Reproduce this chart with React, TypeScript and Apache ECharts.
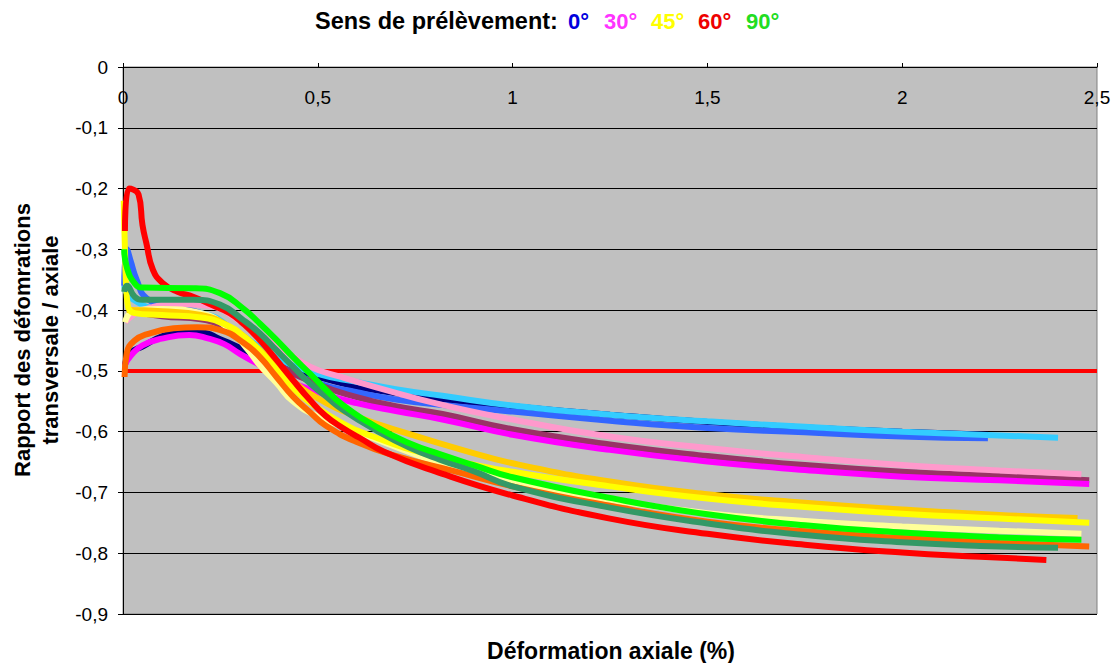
import React, { useEffect, useRef } from "react";
import * as echarts from "echarts";

// ---- Axis ticks ----
const X_MIN = 0, X_MAX = 2.5, X_STEP = 0.5;
const Y_MIN = -0.9, Y_MAX = 0, Y_STEP = 0.1;
const REF_LINE: [number, number][] = [[0, -0.5], [2.5, -0.5]];

// ---- 0° ----
const deg0_navy: [number, number][] = [[0.005,-0.49],[0.02,-0.47],[0.05,-0.46],[0.1,-0.443],[0.15,-0.437],[0.2,-0.437],[0.25,-0.448],[0.3,-0.462],[0.35,-0.478],[0.4,-0.492],[0.48,-0.506],[0.56,-0.52],[0.65,-0.532],[0.8,-0.545],[1.0,-0.558],[1.25,-0.572],[1.5,-0.584],[1.75,-0.593],[2.0,-0.6],[2.22,-0.605]];
const deg0_royal: [number, number][] = [[0.003,-0.36],[0.01,-0.3],[0.02,-0.32],[0.035,-0.35],[0.06,-0.38],[0.12,-0.395],[0.2,-0.405],[0.3,-0.44],[0.4,-0.49],[0.5,-0.52],[0.6,-0.535],[0.7,-0.547],[0.82,-0.556],[1.0,-0.567],[1.25,-0.582],[1.5,-0.594],[1.75,-0.601],[2.0,-0.608],[2.22,-0.611]];
const deg0_sky: [number, number][] = [[0.003,-0.36],[0.02,-0.38],[0.1,-0.4],[0.2,-0.405],[0.3,-0.44],[0.4,-0.48],[0.5,-0.505],[0.6,-0.518],[0.7,-0.53],[0.82,-0.541],[1.0,-0.557],[1.25,-0.572],[1.5,-0.583],[1.75,-0.592],[2.0,-0.6],[2.2,-0.605],[2.4,-0.61]];
// ---- 30° ----
const deg30_plum: [number, number][] = [[0.01,-0.4],[0.1,-0.41],[0.2,-0.415],[0.3,-0.445],[0.4,-0.49],[0.5,-0.522],[0.6,-0.543],[0.7,-0.558],[0.82,-0.571],[1.0,-0.596],[1.25,-0.621],[1.5,-0.64],[1.75,-0.655],[2.0,-0.666],[2.25,-0.673],[2.48,-0.68]];
const deg30_pink: [number, number][] = [[0.005,-0.42],[0.05,-0.4],[0.15,-0.39],[0.22,-0.393],[0.3,-0.418],[0.4,-0.46],[0.48,-0.493],[0.56,-0.51],[0.65,-0.527],[0.82,-0.556],[1.0,-0.58],[1.25,-0.608],[1.5,-0.627],[1.75,-0.642],[2.0,-0.655],[2.25,-0.664],[2.46,-0.67]];
const deg30_magenta: [number, number][] = [[0.005,-0.49],[0.02,-0.475],[0.05,-0.458],[0.1,-0.447],[0.17,-0.441],[0.22,-0.447],[0.26,-0.456],[0.3,-0.472],[0.35,-0.49],[0.42,-0.515],[0.5,-0.535],[0.6,-0.553],[0.7,-0.566],[0.82,-0.58],[1.0,-0.605],[1.25,-0.63],[1.5,-0.649],[1.75,-0.663],[2.0,-0.674],[2.25,-0.68],[2.48,-0.686]];
// ---- 45° ----
const deg45_light: [number, number][] = [[0.005,-0.42],[0.03,-0.4],[0.1,-0.398],[0.2,-0.405],[0.27,-0.43],[0.32,-0.465],[0.35,-0.49],[0.394,-0.52],[0.436,-0.55],[0.5,-0.575],[0.6,-0.6],[0.7,-0.625],[0.8,-0.648],[1.0,-0.683],[1.25,-0.712],[1.5,-0.734],[1.75,-0.747],[2.0,-0.756],[2.25,-0.763],[2.46,-0.768]];
const deg45_gold: [number, number][] = [[0.01,-0.4],[0.1,-0.402],[0.2,-0.408],[0.28,-0.43],[0.35,-0.465],[0.42,-0.508],[0.5,-0.545],[0.6,-0.575],[0.74,-0.605],[0.87,-0.63],[1.0,-0.652],[1.25,-0.682],[1.5,-0.703],[1.75,-0.717],[2.0,-0.728],[2.25,-0.737],[2.45,-0.742]];
const deg45_yellow: [number, number][] = [[0.002,-0.22],[0.005,-0.3],[0.01,-0.38],[0.03,-0.405],[0.1,-0.408],[0.2,-0.412],[0.274,-0.427],[0.31,-0.443],[0.35,-0.466],[0.394,-0.498],[0.436,-0.528],[0.48,-0.552],[0.56,-0.585],[0.65,-0.61],[0.8,-0.64],[1.0,-0.666],[1.25,-0.69],[1.5,-0.71],[1.75,-0.724],[2.0,-0.735],[2.25,-0.743],[2.48,-0.75]];
// ---- 60° ----
const deg60_orange: [number, number][] = [[0.004,-0.51],[0.01,-0.47],[0.03,-0.45],[0.06,-0.44],[0.13,-0.43],[0.19,-0.428],[0.25,-0.433],[0.31,-0.454],[0.351,-0.477],[0.394,-0.51],[0.436,-0.542],[0.48,-0.568],[0.52,-0.59],[0.6,-0.617],[0.7,-0.64],[0.85,-0.665],[1.0,-0.69],[1.25,-0.722],[1.5,-0.748],[1.75,-0.764],[2.0,-0.775],[2.25,-0.783],[2.48,-0.789]];
const deg60_red: [number, number][] = [[0.005,-0.27],[0.015,-0.2],[0.04,-0.21],[0.05,-0.26],[0.06,-0.29],[0.077,-0.334],[0.103,-0.356],[0.14,-0.37],[0.18,-0.378],[0.23,-0.392],[0.274,-0.405],[0.308,-0.422],[0.351,-0.449],[0.394,-0.482],[0.436,-0.515],[0.48,-0.548],[0.52,-0.574],[0.564,-0.594],[0.607,-0.61],[0.67,-0.633],[0.8,-0.665],[1.0,-0.705],[1.25,-0.743],[1.5,-0.768],[1.75,-0.786],[2.0,-0.799],[2.2,-0.806],[2.37,-0.811]];
// ---- 90° ----
const deg90_seagreen: [number, number][] = [[0.003,-0.37],[0.01,-0.36],[0.03,-0.378],[0.05,-0.383],[0.18,-0.383],[0.249,-0.391],[0.308,-0.416],[0.351,-0.438],[0.394,-0.466],[0.436,-0.493],[0.479,-0.52],[0.521,-0.542],[0.564,-0.564],[0.65,-0.598],[0.735,-0.626],[0.813,-0.646],[0.9,-0.665],[1.0,-0.69],[1.25,-0.725],[1.5,-0.751],[1.75,-0.77],[2.0,-0.782],[2.2,-0.788],[2.4,-0.791]];
const deg90_green: [number, number][] = [[0.003,-0.3],[0.01,-0.33],[0.03,-0.356],[0.05,-0.363],[0.18,-0.364],[0.249,-0.372],[0.308,-0.397],[0.351,-0.422],[0.394,-0.449],[0.436,-0.477],[0.479,-0.504],[0.521,-0.531],[0.564,-0.556],[0.65,-0.592],[0.735,-0.619],[0.813,-0.637],[0.9,-0.655],[1.0,-0.675],[1.25,-0.709],[1.5,-0.736],[1.75,-0.754],[2.0,-0.766],[2.25,-0.774],[2.46,-0.778]];

const SERIES: { name: string; color: string; data: [number, number][] }[] = [
  { name: "0° a", color: "#000080", data: deg0_navy },
  { name: "0° b", color: "#3366ff", data: deg0_royal },
  { name: "0° c", color: "#33ccff", data: deg0_sky },
  { name: "30° a", color: "#993366", data: deg30_plum },
  { name: "30° b", color: "#ff99cc", data: deg30_pink },
  { name: "30° c", color: "#ff00ff", data: deg30_magenta },
  { name: "45° a", color: "#ffff99", data: deg45_light },
  { name: "45° b", color: "#ffcc00", data: deg45_gold },
  { name: "45° c", color: "#ffff00", data: deg45_yellow },
  { name: "60° a", color: "#ff6600", data: deg60_orange },
  { name: "60° b", color: "#ff0000", data: deg60_red },
  { name: "90° a", color: "#339966", data: deg90_seagreen },
  { name: "90° b", color: "#00ff00", data: deg90_green },
];

const TITLE_PARTS: { text: string; color: string; x: number; size: number }[] = [
  { text: "Sens de prélèvement:", color: "#000000", x: 315, size: 23.5 },
  { text: "0°", color: "#0000dd", x: 568, size: 22 },
  { text: "30°", color: "#ff33ff", x: 604, size: 22 },
  { text: "45°", color: "#ffff00", x: 651, size: 22 },
  { text: "60°", color: "#ee0000", x: 698, size: 22 },
  { text: "90°", color: "#22dd22", x: 746, size: 22 },
];

const FONT = "'Liberation Sans', Arial, sans-serif";
const fmt = (v: number) => String(Math.round(v * 10) / 10).replace(".", ",");

export default function App() {
  const ref = useRef<HTMLDivElement>(null);
  useEffect(() => {
    if (!ref.current) return;
    const chart = echarts.init(ref.current, undefined, { renderer: "svg" });
    chart.setOption({
      animation: false,
      backgroundColor: "#ffffff",
      grid: {
        left: 123,
        right: 18,
        top: 67,
        bottom: 49,
        show: true,
        backgroundColor: "#c0c0c0",
        borderColor: "#808080",
        borderWidth: 1,
      },
      xAxis: {
        type: "value",
        position: "top",
        min: X_MIN,
        max: X_MAX,
        interval: X_STEP,
        axisLine: { show: true, onZero: false, lineStyle: { color: "#000000", width: 1 } },
        axisTick: { show: true, length: 4, lineStyle: { color: "#000000" } },
        axisLabel: {
          inside: true,
          margin: 21,
          formatter: fmt,
          color: "#000000",
          fontSize: 19,
          fontFamily: FONT,
        },
        splitLine: { show: false },
      },
      yAxis: {
        type: "value",
        min: Y_MIN,
        max: Y_MAX,
        interval: Y_STEP,
        axisLine: { show: true, onZero: false, lineStyle: { color: "#000000", width: 1 } },
        axisTick: { show: true, length: 5, lineStyle: { color: "#000000" } },
        axisLabel: {
          margin: 15,
          formatter: fmt,
          color: "#000000",
          fontSize: 19,
          fontFamily: FONT,
        },
        splitLine: { show: true, lineStyle: { color: "#000000", width: 1 } },
      },
      graphic: [
        ...TITLE_PARTS.map((p) => ({
          type: "text",
          x: p.x,
          y: 21,
          style: {
            text: p.text,
            fontFamily: FONT,
            fontSize: p.size,
            fontWeight: "bold",
            fill: p.color,
            textAlign: "left",
            textVerticalAlign: "middle",
          },
        })),
        {
          type: "text",
          x: 36,
          y: 340,
          rotation: Math.PI / 2,
          style: {
            text: "Rapport des défomrations\ntransversale / axiale",
            fontFamily: FONT,
            fontSize: 22,
            fontWeight: "bold",
            lineHeight: 28,
            fill: "#000000",
            textAlign: "center",
            textVerticalAlign: "middle",
          },
        },
        {
          type: "text",
          x: 611,
          y: 651,
          style: {
            text: "Déformation axiale (%)",
            fontFamily: FONT,
            fontSize: 23,
            fontWeight: "bold",
            fill: "#000000",
            textAlign: "center",
            textVerticalAlign: "middle",
          },
        },
      ],
      series: [
        {
          name: "-0,5",
          type: "line",
          data: REF_LINE,
          showSymbol: false,
          silent: true,
          lineStyle: { color: "#ff0000", width: 4 },
          z: 1,
        },
        ...SERIES.map((s) => ({
          name: s.name,
          type: "line",
          data: s.data,
          showSymbol: false,
          silent: true,
          smooth: true,
          lineStyle: { color: s.color, width: 6 },
          itemStyle: { color: s.color },
          z: 2,
        })),
      ],
    });
    return () => chart.dispose();
  }, []);
  return (
    <div
      ref={ref}
      style={{ position: "fixed", left: 0, top: 0, width: 1115, height: 663 }}
    />
  );
}
